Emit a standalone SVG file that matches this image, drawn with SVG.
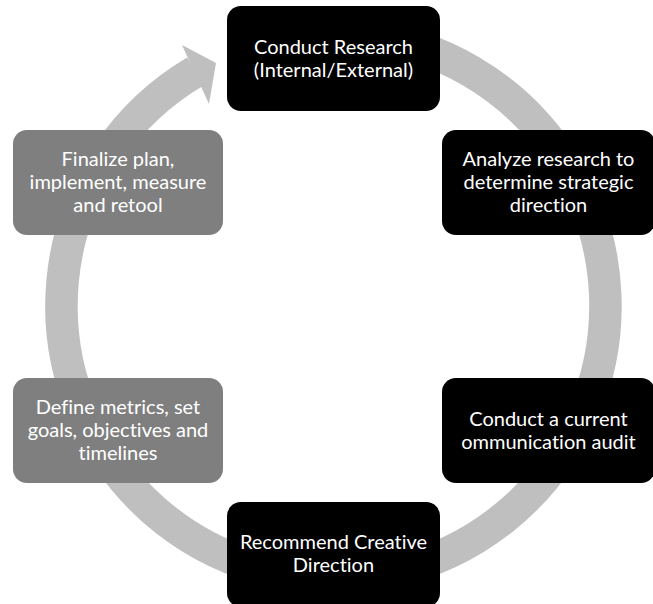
<svg xmlns="http://www.w3.org/2000/svg" width="653" height="604" viewBox="0 0 653 604">
  <style>
    .ring { fill: none; stroke: #bfbfbf; stroke-width: 32.5; stroke-linecap: butt; }
    .head { fill: #bfbfbf; }
    .dark { fill: #000000; }
    .mid { fill: #7f7f7f; }
    .label { fill: #ffffff; font-family: Lato, "Open Sans", "Liberation Sans", sans-serif; font-size: 20px; text-anchor: middle; font-variant-ligatures: none; font-feature-settings: "liga" 0; }
  </style>

  <!-- continuous cycle ring (clockwise, ends in arrowhead at the first step) -->
  <g id="connectors">
    <path class="ring" d="M 357.2 35 A 272 272 0 1 1 195.4 71.6"/>
    <polygon class="head" points="182,45 216,63 209,104"/>
  </g>

  <g id="node-research">
    <rect class="dark" x="227" y="6" width="213" height="105" rx="14"/>
    <text class="label" x="333.5" y="54">Conduct Research</text>
    <text class="label" x="333.5" y="77">(Internal/External)</text>
  </g>

  <g id="node-analyze">
    <rect class="dark" x="442" y="130" width="213" height="105" rx="14"/>
    <text class="label" x="548.5" y="166">Analyze research to</text>
    <text class="label" x="548.5" y="189">determine strategic</text>
    <text class="label" x="548.5" y="212">direction</text>
  </g>

  <g id="node-audit">
    <rect class="dark" x="442" y="378" width="213" height="105" rx="14"/>
    <text class="label" x="548.5" y="426">Conduct a current</text>
    <text class="label" x="548.5" y="449">ommunication audit</text>
  </g>

  <g id="node-creative">
    <rect class="dark" x="227" y="502" width="213" height="105" rx="14"/>
    <text class="label" x="333.5" y="549">Recommend Creative</text>
    <text class="label" x="333.5" y="572">Direction</text>
  </g>

  <g id="node-metrics">
    <rect class="mid" x="13" y="378" width="210" height="105" rx="14"/>
    <text class="label" x="118" y="414">Define metrics, set</text>
    <text class="label" x="118" y="437">goals, objectives and</text>
    <text class="label" x="118" y="460">timelines</text>
  </g>

  <g id="node-finalize">
    <rect class="mid" x="13" y="130" width="210" height="105" rx="14"/>
    <text class="label" x="118" y="166">Finalize plan,</text>
    <text class="label" x="118" y="189">implement, measure</text>
    <text class="label" x="118" y="212">and retool</text>
  </g>
</svg>
